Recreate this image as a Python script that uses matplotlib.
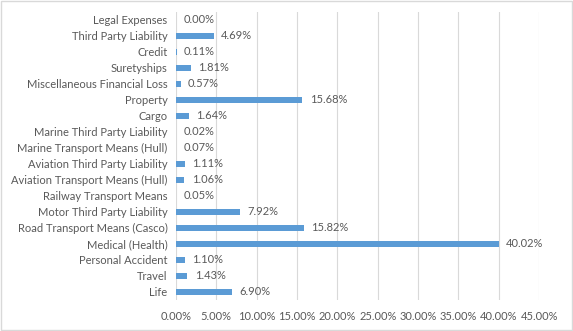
import matplotlib.pyplot as plt
import numpy as np

categories = [
    "Life", "Travel", "Personal Accident", "Medical (Health)",
    "Road Transport Means (Casco)", "Motor Third Party Liability",
    "Railway Transport Means", "Aviation Transport Means (Hull)",
    "Aviation Third Party Liability", "Marine Transport Means (Hull)",
    "Marine Third Party Liability", "Cargo", "Property",
    "Miscellaneous Financial Loss", "Suretyships", "Credit",
    "Third Party Liability", "Legal Expenses",
]
values = [6.90, 1.43, 1.10, 40.02, 15.82, 7.92, 0.05, 1.06, 1.11,
          0.07, 0.02, 1.64, 15.68, 0.57, 1.81, 0.11, 4.69, 0.00]
xticks = [0, 5, 10, 15, 20, 25, 30, 35, 40, 45]


def main() -> None:
    plt.rcParams['font.family'] = ['Lato', 'DejaVu Sans']
    text_color = '#595959'
    fs = 8

    fig = plt.figure(figsize=(5.73, 3.31), dpi=100)
    ax = fig.add_axes([0.307, 0.095, 0.634, 0.87])

    y = np.arange(len(categories))
    ax.barh(y, values, height=0.38, color='#5B9BD5', zorder=3)

    for yi, v in zip(y, values):
        ax.text(v + 0.9, yi, f"{v:.2f}%", va='center', ha='left',
                fontsize=fs, color=text_color)

    ax.set_xlim(0, 45)
    ax.set_ylim(-0.5, len(categories) - 0.5)
    ax.set_yticks(y)
    ax.set_yticklabels(categories, fontsize=fs, color=text_color)
    ax.set_xticks(xticks)
    ax.set_xticklabels([f"{t:.2f}%" for t in xticks], fontsize=fs, color=text_color)
    ax.tick_params(length=0, pad=6)
    ax.tick_params(axis='x', pad=8)
    ax.grid(axis='x', color='#D9D9D9', linewidth=0.8, zorder=0)
    for s in ax.spines.values():
        s.set_visible(False)

    # light border around the chart area
    fig.patches.append(plt.Rectangle((0.002, 0.003), 0.996, 0.994, transform=fig.transFigure,
                                     fill=False, edgecolor='#D9D9D9', linewidth=1))

    fig.savefig('out.png', dpi=100)


if __name__ == "__main__":
    main()
